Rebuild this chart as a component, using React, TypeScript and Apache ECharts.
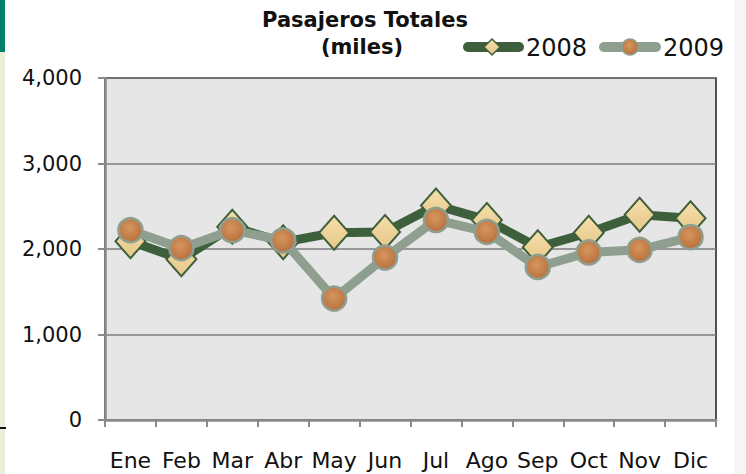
import React, { useEffect, useRef } from "react";
import * as echarts from "echarts";

const months = ["Ene", "Feb", "Mar", "Abr", "May", "Jun", "Jul", "Ago", "Sep", "Oct", "Nov", "Dic"];
const values2008 = [2090, 1880, 2260, 2080, 2190, 2200, 2510, 2340, 2020, 2190, 2400, 2360];
const values2009 = [2220, 2010, 2220, 2100, 1420, 1900, 2340, 2200, 1790, 1960, 1990, 2140];
const yTicks = [0, 1000, 2000, 3000, 4000];
const seriesNames = ["2008", "2009"];

const FONT = "'DejaVu Sans', Verdana, sans-serif";

export default function App() {
  const ref = useRef<HTMLDivElement>(null);
  useEffect(() => {
    if (!ref.current) return;
    const chart = echarts.init(ref.current, null, { renderer: "svg" });
    const green = "#3e5f3b";
    const sage = "#8e9f8f";
    const diamondFill = new echarts.graphic.LinearGradient(0, 0, 0, 1, [
      { offset: 0, color: "#f4dfaa" },
      { offset: 1, color: "#e6c788" },
    ]);
    const copperFill = new echarts.graphic.RadialGradient(0.45, 0.4, 0.6, [
      { offset: 0, color: "#d6965e" },
      { offset: 1, color: "#b8703e" },
    ]);
    const textStyleBase = { fontFamily: FONT, fill: "#111" };
    chart.setOption({
      animation: false,
      backgroundColor: "#ffffff",
      grid: {
        left: 105,
        right: 30,
        top: 78,
        bottom: 54,
        show: true,
        backgroundColor: "#e6e6e6",
        borderColor: "#1e1e1e",
        borderWidth: 1.5,
      },
      graphic: [
        { type: "rect", shape: { x: 0, y: 0, width: 5, height: 52 }, style: { fill: "#00806a" } },
        { type: "rect", shape: { x: 0, y: 52, width: 5, height: 422 }, style: { fill: "#e8f0dc" } },
        { type: "rect", shape: { x: 0, y: 427, width: 6, height: 2 }, style: { fill: "#111" } },
        { type: "rect", shape: { x: 734, y: 0, width: 12, height: 474 }, style: { fill: "#f6f6f6" } },
        {
          type: "text",
          x: 365,
          y: 20,
          style: {
            ...textStyleBase,
            text: "Pasajeros Totales",
            align: "center",
            verticalAlign: "middle",
            fontSize: 21,
            fontWeight: "bold",
          },
        },
        {
          type: "text",
          x: 362,
          y: 47,
          style: {
            ...textStyleBase,
            text: "(miles)",
            align: "center",
            verticalAlign: "middle",
            fontSize: 21,
            fontWeight: "bold",
          },
        },
        // legend 2008
        {
          type: "line",
          shape: { x1: 468, y1: 47, x2: 519, y2: 47 },
          style: { stroke: green, lineWidth: 10, lineCap: "round" },
        },
        {
          type: "polygon",
          shape: { points: [[492, 39], [500, 47], [492, 55], [484, 47]] },
          style: { fill: diamondFill, stroke: green, lineWidth: 1.5 },
        },
        {
          type: "text",
          x: 526,
          y: 48,
          style: { ...textStyleBase, text: seriesNames[0], align: "left", verticalAlign: "middle", fontSize: 24 },
        },
        // legend 2009
        {
          type: "line",
          shape: { x1: 604, y1: 47, x2: 656, y2: 47 },
          style: { stroke: sage, lineWidth: 10, lineCap: "round" },
        },
        {
          type: "circle",
          shape: { cx: 630, cy: 47, r: 8 },
          style: { fill: copperFill, stroke: sage, lineWidth: 1.5 },
        },
        {
          type: "text",
          x: 663,
          y: 48,
          style: { ...textStyleBase, text: seriesNames[1], align: "left", verticalAlign: "middle", fontSize: 24 },
        },
      ],
      xAxis: {
        type: "category",
        data: months,
        boundaryGap: true,
        axisLine: { show: true, lineStyle: { color: "#8a8a8a", width: 2.5 } },
        axisTick: { show: true, length: 7, interval: 0, lineStyle: { color: "#8a8a8a", width: 2 } },
        axisLabel: { fontFamily: FONT, fontSize: 22, color: "#111", margin: 29, interval: 0 },
        splitLine: { show: false },
      },
      yAxis: {
        type: "value",
        min: 0,
        max: 4000,
        interval: 1000,
        axisLine: { show: true, lineStyle: { color: "#8a8a8a", width: 2.5 } },
        axisTick: { show: true, length: 7, lineStyle: { color: "#8a8a8a", width: 2 } },
        axisLabel: {
          fontFamily: FONT,
          fontSize: 21,
          color: "#111",
          margin: 23,
          formatter: (v: number) => (yTicks.includes(v) ? v.toLocaleString("en-US") : ""),
        },
        splitLine: { show: true, lineStyle: { color: "#7d7d7d", width: 1.5 } },
      },
      series: [
        {
          name: seriesNames[0],
          type: "line",
          data: values2008,
          symbol: "diamond",
          symbolSize: [30, 34],
          showAllSymbol: true,
          lineStyle: { color: green, width: 9 },
          itemStyle: { color: diamondFill, borderColor: green, borderWidth: 2 },
          z: 2,
        },
        {
          name: seriesNames[1],
          type: "line",
          data: values2009,
          symbol: "circle",
          symbolSize: 24,
          showAllSymbol: true,
          lineStyle: { color: sage, width: 9 },
          itemStyle: { color: copperFill, borderColor: sage, borderWidth: 2.5 },
          z: 3,
        },
      ],
    });
    return () => chart.dispose();
  }, []);
  return (
    <div
      ref={ref}
      style={{ position: "absolute", left: 0, top: 0, width: 746, height: 474 }}
    />
  );
}
